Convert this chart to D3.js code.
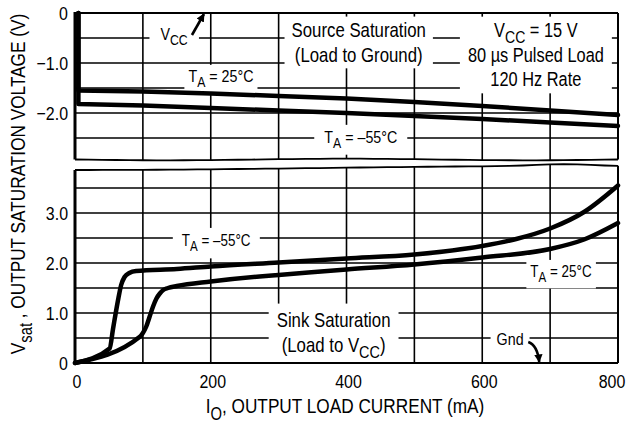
<!DOCTYPE html>
<html>
<head>
<meta charset="utf-8">
<script src="https://cdn.jsdelivr.net/npm/d3@7"></script>
<style>
  html, body { margin: 0; padding: 0; background: #fff; }
  svg { display: block; }
  text { font-family: "Liberation Sans Narrow", "Arial Narrow", "Liberation Sans", Arial, sans-serif; fill: #000; }
</style>
</head>
<body>
<svg id="chart" width="634" height="433"></svg>
<script>
// tick values
const currentTicks = [0, 200, 400, 600, 800];
const sourceTicks = [0, -1.0, -2.0];
const sinkTicks = [0, 1.0, 2.0, 3.0];
const currentGrid = [100, 200, 300, 400, 500, 600, 700];
const sourceGrid = [-0.5, -1.0, -1.5, -2.0, -2.5];
const sinkGrid = [0.5, 1.0, 1.5, 2.0, 2.5, 3.0, 3.5];

// source saturation (load to ground), volts below Vcc
const sourceCurrent = [5, 5, 100, 200, 300, 400, 500, 600, 700, 800];
const source25 = [0, -1.55, -1.57, -1.61, -1.66, -1.71, -1.78, -1.86, -1.95, -2.04];
const source55 = [0, -1.82, -1.85, -1.90, -1.95, -2.00, -2.06, -2.12, -2.19, -2.26];

// sink saturation (load to Vcc), volts above ground
const sinkCurrent55 = [0, 51, 56, 60, 64, 68, 73, 80, 90, 150, 200, 300, 400, 500, 600, 650, 700, 750, 800];
const sink55 = [0, 0.29, 0.68, 1.0, 1.3, 1.56, 1.72, 1.80, 1.84, 1.88, 1.93, 2.01, 2.09, 2.17, 2.34, 2.48, 2.69, 3.02, 3.55];
const sinkCurrent25 = [0, 96, 100, 105, 110, 115, 120, 125, 130, 137, 150, 200, 272, 300, 400, 500, 600, 700, 750, 800];
const sink25 = [0, 0.53, 0.6, 0.73, 0.93, 1.13, 1.29, 1.39, 1.46, 1.5, 1.54, 1.63, 1.73, 1.76, 1.87, 1.97, 2.11, 2.28, 2.47, 2.8];

const svg = d3.select("#chart");

const x = d3.scaleLinear().domain([0, 800]).range([75, 618]);
const ySrc = d3.scaleLinear().domain([-2.94, 0]).range([160, 13]);
const ySink = d3.scaleLinear().domain([0, 3.94]).range([363, 166]);

// wavy break edges between the two panels
const t01 = d3.scaleLinear().domain([0, 800]).range([0, 1]);
const srcEdge = mA => 159.5 + 0.8 * Math.sin(t01(mA) * Math.PI * 3);
const sinkEdge = mA => 168 + 2 * Math.cos(Math.PI * t01(mA) * 1.1) - 1.8 * Math.exp(-Math.pow((t01(mA) - 0.9) / 0.07, 2));

const gridG = svg.append("g").attr("stroke", "#000").attr("stroke-width", 1.6);
const maskG = svg.append("g");
const frameG = svg.append("g").attr("fill", "none").attr("stroke", "#000");
const curveG = svg.append("g").attr("fill", "none").attr("stroke", "#000")
  .attr("stroke-width", 4.5).attr("stroke-linejoin", "round").attr("stroke-linecap", "round");
const textG = svg.append("g");

// grid: vertical lines
gridG.selectAll(".vs").data(currentGrid).join("line")
  .attr("x1", d => x(d)).attr("x2", d => x(d))
  .attr("y1", ySrc(0)).attr("y2", d => srcEdge(d));
gridG.selectAll(".vk").data(currentGrid).join("line")
  .attr("x1", d => x(d)).attr("x2", d => x(d))
  .attr("y1", d => sinkEdge(d)).attr("y2", ySink(0));
// grid: horizontal lines
gridG.selectAll(".hs").data(sourceGrid).join("line")
  .attr("x1", x(0)).attr("x2", x(800))
  .attr("y1", d => ySrc(d)).attr("y2", d => ySrc(d));
gridG.selectAll(".hk").data(sinkGrid).join("line")
  .attr("x1", x(0)).attr("x2", x(800))
  .attr("y1", d => ySink(d)).attr("y2", d => ySink(d));

// frame
const edgeSteps = d3.range(0, 801, 20);
frameG.append("path").attr("stroke-width", 1.8)
  .attr("d", d3.line().x(d => x(d)).y(d => srcEdge(d))(edgeSteps));
frameG.append("path").attr("stroke-width", 1.8)
  .attr("d", d3.line().x(d => x(d)).y(d => sinkEdge(d))(edgeSteps));
frameG.append("line").attr("stroke-width", 2)
  .attr("x1", x(0)).attr("x2", x(800)).attr("y1", ySrc(0)).attr("y2", ySrc(0));
frameG.append("line").attr("stroke-width", 2.2)
  .attr("x1", x(0)).attr("x2", x(800)).attr("y1", ySink(0)).attr("y2", ySink(0));
frameG.append("line").attr("stroke-width", 2)
  .attr("x1", x(800)).attr("x2", x(800)).attr("y1", ySrc(0)).attr("y2", srcEdge(800));
frameG.append("line").attr("stroke-width", 2)
  .attr("x1", x(800)).attr("x2", x(800)).attr("y1", sinkEdge(800)).attr("y2", ySink(0));
frameG.append("line").attr("stroke-width", 3)
  .attr("x1", x(0)).attr("x2", x(0)).attr("y1", ySrc(0) - 1).attr("y2", srcEdge(0));
frameG.append("line").attr("stroke-width", 3)
  .attr("x1", x(0)).attr("x2", x(0)).attr("y1", sinkEdge(0)).attr("y2", ySink(0) + 1);

// curves
const srcLine = d3.line().x((d, i) => x(sourceCurrent[i])).y(d => ySrc(d));
curveG.append("path").attr("d", srcLine(source25));
curveG.append("path").attr("d", srcLine(source55));
const sinkLine = cur => d3.line().curve(d3.curveMonotoneX).x((d, i) => x(cur[i])).y(d => ySink(d));
curveG.append("path").attr("d", sinkLine(sinkCurrent55)(sink55));
curveG.append("path").attr("d", sinkLine(sinkCurrent25)(sink25));

// text helper: "_{..}" marks a subscript; the face is squeezed to look condensed
const SQUEEZE = 0.84;
function addText(g, str, px, py, size, anchor) {
  const wrap = g.append("g").attr("transform", `translate(${px},${py}) scale(${SQUEEZE},1)`);
  const t = wrap.append("text").attr("font-size", size).attr("text-anchor", anchor || "middle");
  const shift = size * 0.32;
  let down = false;
  str.split(/(_\{[^}]*\})/).filter(s => s.length).forEach(s => {
    const sub = s.startsWith("_{");
    const sp = t.append("tspan").text(sub ? s.slice(2, -1) : s);
    if (sub) {
      sp.attr("font-size", size * 0.86);
      if (!down) { sp.attr("dy", shift); down = true; }
    } else if (down) {
      sp.attr("dy", -shift); down = false;
    }
  });
  return wrap;
}

// in-plot labels with white backing boxes that break the grid
const labels = [
  { lines: ["V_{CC}"], mA: 146, v: -0.54, y: ySrc, size: 17, pad: [11, 3] },
  { lines: ["T_{A} = 25°C"], mA: 215, v: -1.38, y: ySrc, size: 17, pad: [4, 2] },
  { lines: ["T_{A} = –55°C"], mA: 421, v: -2.6, y: ySrc, size: 17, pad: [10, 3] },
  { lines: ["Source Saturation", "(Load to Ground)"], mA: 418, v: -0.48, y: ySrc, size: 20, gap: 25, pad: [7, 2] },
  { lines: ["V_{CC} = 15 V", "80 µs Pulsed Load", "120 Hz Rate"], mA: 679, v: -0.48, y: ySrc, size: 19.5, gap: 24.5, pad: [8, 3] },
  { lines: ["T_{A} = –55°C"], mA: 208, v: 2.34, y: ySink, size: 16, pad: [9, 4] },
  { lines: ["T_{A} = 25°C"], mA: 716, v: 1.72, y: ySink, size: 16, pad: [4, 3] },
  { lines: ["Sink Saturation", "(Load to V_{CC})"], mA: 381, v: 0.72, y: ySink, size: 20, gap: 25, pad: [8, 5] },
  { lines: ["Gnd"], mA: 641, v: 0.36, y: ySink, size: 17, pad: [6, 3] }
];

labels.forEach(lb => {
  const g = textG.append("g");
  lb.lines.forEach((ln, i) => addText(g, ln, x(lb.mA), lb.y(lb.v) + i * (lb.gap || 0), lb.size));
  const bb = g.node().getBBox();
  maskG.append("rect")
    .attr("x", bb.x - lb.pad[0]).attr("y", bb.y - lb.pad[1])
    .attr("width", bb.width + 2 * lb.pad[0]).attr("height", bb.height + 2 * lb.pad[1])
    .attr("fill", "#fff");
});

// arrows
svg.append("defs").append("marker")
  .attr("id", "head").attr("viewBox", "0 0 10 10").attr("refX", 9).attr("refY", 5)
  .attr("markerWidth", 3.2).attr("markerHeight", 3.2).attr("orient", "auto")
  .append("path").attr("d", "M0,0L10,5L0,10Z").attr("fill", "#000");
const arrowG = svg.append("g").attr("fill", "none").attr("stroke", "#000").attr("stroke-width", 2.6);
const vTip = [x(190), ySrc(0) + 1];
arrowG.append("path").attr("marker-end", "url(#head)")
  .attr("d", `M${vTip[0] - 12},${vTip[1] + 21}L${vTip[0]},${vTip[1]}`);
const gTip = [x(684), ySink(0) - 1];
arrowG.append("path").attr("marker-end", "url(#head)")
  .attr("d", `M${gTip[0] - 11},${gTip[1] - 20}Q${gTip[0] - 2},${gTip[1] - 17} ${gTip[0]},${gTip[1]}`);

// tick labels
currentTicks.forEach((d, i) => {
  addText(textG, String(d), x(d) + (i === currentTicks.length - 1 ? -6 : 2), 388, 19);
});
sourceTicks.forEach(d => {
  addText(textG, d === 0 ? "0" : d3.format(".1f")(d).replace("-", "–"), 68, ySrc(d) + 6.5, 19, "end");
});
sinkTicks.forEach(d => {
  addText(textG, d === 0 ? "0" : d3.format(".1f")(d), 68, ySink(d) + 6.5, 19, "end");
});

// axis titles
addText(textG, "I_{O}, OUTPUT LOAD CURRENT (mA)", 345, 413, 20.5);
const yt = textG.append("g").attr("transform", "translate(25,184) rotate(-90)");
addText(yt, "V_{sat} , OUTPUT SATURATION VOLTAGE (V)", 0, 0, 20.5);
</script>
</body>
</html>
